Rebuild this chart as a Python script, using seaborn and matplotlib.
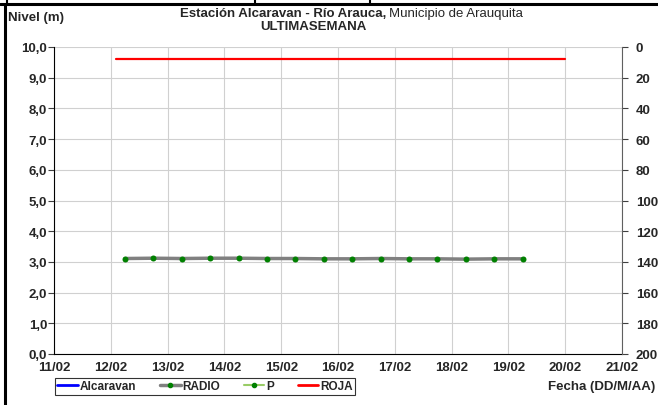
import matplotlib
matplotlib.use("Agg")
import matplotlib.pyplot as plt
import seaborn as sns
import pandas as pd
from matplotlib.lines import Line2D

# Datos (dia de febrero como numero)
dias_p = [12.25, 12.75, 13.25, 13.75, 14.25, 14.75, 15.25, 15.75,
          16.25, 16.75, 17.25, 17.75, 18.25, 18.75, 19.25]
nivel_p = [3.11, 3.12, 3.11, 3.12, 3.12, 3.11, 3.11, 3.10,
           3.10, 3.11, 3.10, 3.10, 3.09, 3.10, 3.10]
dias_roja = [12.1, 20.0]
nivel_roja = [9.6, 9.6]
dias_alcaravan = []
nivel_alcaravan = []

xticks = list(range(11, 22))
xlabels = ["%02d/02" % d for d in xticks]
yticks = [i for i in range(0, 11)]
ylabels = ["%d,0" % v for v in yticks]
y2ticks = list(range(0, 201, 20))

sns.set_style("whitegrid", {"grid.color": "#d0d0d0", "axes.edgecolor": "#808080"})
plt.rcParams["font.family"] = ["Liberation Sans", "DejaVu Sans"]
plt.rcParams["font.weight"] = "bold"
fs = 9.5

fig = plt.figure(figsize=(6.58, 4.06), dpi=100)
ax = fig.add_axes([54 / 658, 1 - 355 / 406, 568 / 658, 307 / 406])

df_p = pd.DataFrame({"dia": dias_p, "nivel": nivel_p})
df_r = pd.DataFrame({"dia": dias_roja, "nivel": nivel_roja})

sns.lineplot(data=df_p, x="dia", y="nivel", ax=ax, color="#99cc66", lw=1,
             marker="o", markersize=3, markerfacecolor="#008000",
             markeredgecolor="#008000", label="P")
sns.lineplot(data=df_p, x="dia", y="nivel", ax=ax, color="#808080", lw=2.5,
             marker="o", markersize=3.5, markerfacecolor="#008000",
             markeredgecolor="#008000", label="RADIO")
sns.lineplot(data=df_r, x="dia", y="nivel", ax=ax, color="#ff0000", lw=1.6,
             label="ROJA")
ax.plot(dias_alcaravan, nivel_alcaravan, color="#0000ff", lw=2, label="Alcaravan")

ax.set_xlim(11, 21)
ax.set_ylim(0, 10)
ax.set_xticks(xticks)
ax.set_xticklabels(xlabels, fontsize=fs, fontweight="bold")
ax.set_yticks(yticks)
ax.set_yticklabels(ylabels, fontsize=fs, fontweight="bold")
ax.set_xlabel("")
ax.set_ylabel("")
ax.tick_params(axis="both", length=4, width=0.8, color="#404040", pad=1, direction="out")
ax.tick_params(axis="x", pad=1)
for s in ax.spines.values():
    s.set_visible(False)
ax.spines["left"].set_visible(True)
ax.spines["left"].set_color("#000000")
ax.spines["bottom"].set_visible(True)
ax.spines["bottom"].set_color("#000000")
ax.get_legend().remove()

ax2 = ax.twinx()
ax2.set_ylim(200, 0)
ax2.set_yticks(y2ticks)
ax2.set_yticklabels([str(v) for v in y2ticks], fontsize=fs, fontweight="bold")
ax2.grid(False)
ax2.tick_params(axis="y", length=4, width=0.8, color="#404040", pad=6, direction="out")
for s in ax2.spines.values():
    s.set_visible(False)
ax2.spines["right"].set_visible(True)
ax2.spines["right"].set_color("#606060")

# leyenda
orden = ["Alcaravan", "RADIO", "P", "ROJA"]
handles = [Line2D([], [], color="#0000ff", lw=2),
           Line2D([], [], color="#808080", lw=2.5, marker="o", markersize=3,
                  markerfacecolor="#008000", markeredgecolor="#008000"),
           Line2D([], [], color="#99cc66", lw=1.5, marker="o", markersize=3,
                  markerfacecolor="#008000", markeredgecolor="#008000"),
           Line2D([], [], color="#ff0000", lw=2)]
leg = fig.legend(handles, orden, loc="center", bbox_to_anchor=(205 / 658, 1 - 387.5 / 406),
                 ncol=4, frameon=True, fancybox=False, handlelength=1.75,
                 handletextpad=0.15, columnspacing=2.0, borderpad=0.2,
                 borderaxespad=0, prop={"weight": "bold", "size": 8.5})
leg.get_frame().set_edgecolor("#000000")
leg.get_frame().set_linewidth(0.8)

# textos
fig.text(8 / 658, 1 - 18 / 406, "Nivel (m)", fontsize=fs, fontweight="bold", va="center")
fig.text(386 / 658, 1 - 14 / 406, "Estación Alcaravan - Río Arauca,", fontsize=fs,
         fontweight="bold", va="center", ha="right")
fig.text(389 / 658, 1 - 14 / 406, "Municipio de Arauquita", fontsize=fs,
         fontweight="normal", va="center", ha="left")
fig.text(313 / 658, 1 - 27 / 406, "ULTIMASEMANA", fontsize=fs, fontweight="bold",
         va="center", ha="center")
fig.text(655 / 658, 1 - 387 / 406, "Fecha (DD/M/AA)", fontsize=fs, fontweight="bold",
         va="center", ha="right")

# marco de la tabla
fig.add_artist(Line2D([5 / 658, 5 / 658], [0, 1 - 5 / 406], color="black", lw=2.2,
                      transform=fig.transFigure))
fig.add_artist(Line2D([0, 1], [1 - 5 / 406, 1 - 5 / 406], color="black", lw=2.2,
                      transform=fig.transFigure))
for xp in [7, 255, 370]:
    fig.add_artist(Line2D([xp / 658, xp / 658], [1 - 5 / 406, 1], color="black", lw=1.5,
                          transform=fig.transFigure))

fig.savefig("out.png", dpi=100)
